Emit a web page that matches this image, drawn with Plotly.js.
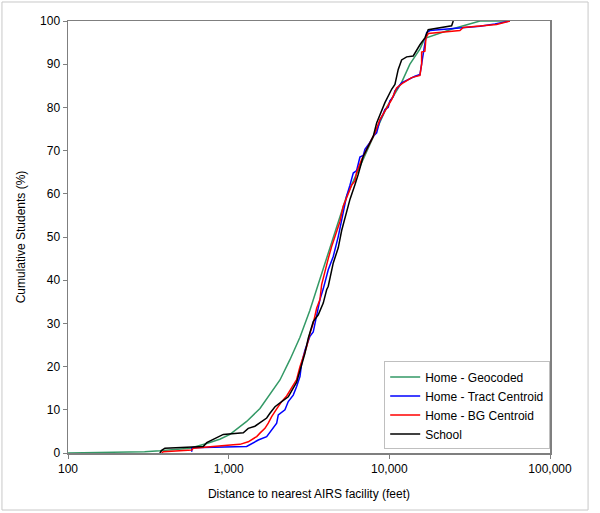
<!DOCTYPE html>
<html>
<head>
<meta charset="utf-8">
<script src="https://cdn.plot.ly/plotly-3.0.1.min.js"></script>
<style>
  body { margin: 0; background: #fff; }
  #chart { width: 600px; height: 513px; }
</style>
</head>
<body>
<div id="chart"></div>
<script>
// Distance (feet) vs cumulative share of students (%)
var geoX = [100, 150, 200, 300, 373, 470, 574, 730, 880, 1019, 1150, 1294, 1566, 1800, 2086, 2406, 2778, 3200, 3975, 4500, 5423, 6500, 7907, 9617, 11930, 13430, 15500, 16650, 24880, 36640, 56260];
var geoY = [0, 0.05, 0.1, 0.3, 0.5, 0.8, 1.1, 2.2, 3.2, 4.3, 5.8, 7.3, 10.3, 13.5, 16.9, 21.6, 26.8, 33.0, 44.0, 50.0, 59.5, 66.0, 72.8, 80.0, 85.8, 90.0, 93.5, 96.0, 98.2, 100, 100];

var tractX = [589, 589, 1294, 1528, 1724, 1852, 1990, 2036, 2240, 2349, 2523, 2649, 2778, 2847, 2984, 3205, 3360, 3699, 3879, 4167, 4477, 4808, 5050, 5424, 5687, 5964, 6259, 6561, 6880, 7050, 7573, 7940, 8337, 8740, 9163, 9389, 9843, 10086, 10576, 10835, 11925, 13113, 14431, 15503, 15885, 16253, 16652, 17064, 17889, 27498, 36640, 45410, 56300];
var tractY = [0.3, 1.2, 1.5, 3.0, 3.8, 5.3, 6.9, 8.8, 10.0, 11.9, 13.4, 15.4, 17.7, 20.8, 23.8, 27.0, 28.0, 35.5, 38.0, 42.4, 45.5, 50.1, 54.0, 59.5, 62.0, 64.8, 65.4, 68.5, 68.9, 70.3, 71.9, 73.3, 74.1, 77.0, 78.5, 79.5, 80.0, 81.5, 82.5, 83.8, 85.7, 86.5, 87.2, 87.6, 90.3, 92.7, 95.2, 97.3, 97.8, 98.3, 98.8, 99.3, 100];

var bgX = [383, 392, 589, 602, 1068, 1176, 1324, 1494, 1566, 1682, 1764, 1852, 1990, 2137, 2296, 2466, 2649, 2778, 2912, 3057, 3205, 3360, 3528, 3699, 3791, 3975, 4167, 4374, 4699, 4928, 5166, 5549, 5827, 6108, 6259, 6724, 7050, 7223, 7760, 8136, 8740, 9389, 10086, 10335, 11101, 12207, 13763, 15503, 15885, 15885, 16652, 16896, 17462, 27498, 28836, 46530, 56300];
var bgY = [0, 0.3, 0.7, 1.1, 1.9, 2.0, 2.6, 3.8, 4.6, 5.7, 6.9, 8.4, 10.2, 11.9, 13.2, 15.0, 17.0, 20.0, 22.3, 24.6, 27.7, 30.0, 33.5, 35.5, 39.0, 42.4, 45.0, 47.8, 51.3, 53.6, 57.1, 60.2, 62.0, 63.0, 65.0, 67.9, 69.5, 70.2, 72.5, 74.1, 77.2, 79.1, 81.1, 81.8, 84.5, 85.7, 86.9, 87.4, 90.0, 92.8, 93.0, 96.1, 97.1, 97.8, 98.5, 99.2, 100];

var schoolX = [373, 383, 401, 695, 730, 926, 1233, 1324, 1457, 1566, 1642, 1724, 1807, 1942, 2137, 2349, 2523, 2649, 2711, 2847, 2984, 3129, 3360, 3611, 3879, 4072, 4167, 4477, 4808, 5050, 5293, 5687, 6108, 6404, 6880, 7223, 7573, 7940, 8337, 8956, 9389, 10335, 10835, 11360, 11925, 12813, 14083, 15503, 16652, 17462, 24420, 24990];
var schoolY = [0, 0.6, 1.1, 1.5, 2.4, 4.3, 4.7, 5.7, 6.2, 7.0, 7.6, 8.1, 9.2, 10.7, 11.9, 13.0, 15.0, 16.4, 17.7, 20.4, 23.1, 26.6, 30.4, 32.0, 34.7, 37.8, 38.6, 44.0, 47.5, 51.5, 54.5, 58.7, 62.1, 64.5, 68.7, 70.3, 72.0, 73.3, 76.4, 79.5, 81.1, 84.2, 85.3, 88.8, 91.0, 91.7, 91.9, 94.5, 96.1, 98.0, 98.9, 100];

var seriesNames = ["Home - Geocoded", "Home - Tract Centroid", "Home - BG Centroid", "School"];
var seriesColors = ["#339966", "#0000ff", "#ff0000", "#000000"];

var xTickVals = [100, 1000, 10000, 100000];
var xTickText = ["100", "1,000", "10,000", "100,000"];

var font = "Liberation Sans, Arial, sans-serif";

var xs = [geoX, tractX, bgX, schoolX];
var ys = [geoY, tractY, bgY, schoolY];
var data = [];
for (var i = 0; i < xs.length; i++) {
  data.push({
    x: xs[i],
    y: ys[i],
    name: seriesNames[i],
    mode: "lines",
    type: "scatter",
    line: {color: seriesColors[i], width: 1.5}
  });
}

var layout = {
  width: 600,
  height: 513,
  margin: {l: 68, r: 50, t: 21, b: 60},
  paper_bgcolor: "#ffffff",
  plot_bgcolor: "#ffffff",
  font: {family: font, size: 12, color: "#000"},
  showlegend: true,
  legend: {
    x: 0.656, y: 0.212, xanchor: "left", yanchor: "top",
    bgcolor: "#ffffff", bordercolor: "#bfbfbf", borderwidth: 1,
    font: {family: font, size: 12, color: "#000"},
    itemwidth: 30,
    tracegroupgap: 0
  },
  xaxis: {
    type: "log",
    range: [2, 5],
    tickvals: xTickVals,
    ticktext: xTickText,
    showgrid: false, zeroline: false,
    showline: true, mirror: true, linecolor: "#7f7f7f", linewidth: 1.5,
    ticks: "outside", ticklen: 4, tickcolor: "#7f7f7f",
    tickfont: {family: font, size: 12, color: "#000"},
    title: {text: "Distance to nearest AIRS facility (feet)", font: {family: font, size: 12, color: "#000"}, standoff: 14}
  },
  yaxis: {
    range: [0, 100],
    dtick: 10,
    showgrid: false, zeroline: false,
    showline: true, mirror: true, linecolor: "#7f7f7f", linewidth: 1.5,
    ticks: "outside", ticklen: 4, tickcolor: "#7f7f7f",
    tickfont: {family: font, size: 12, color: "#000"},
    title: {text: "Cumulative Students (%)", font: {family: font, size: 12, color: "#000"}, standoff: 12}
  },
  shapes: [{
    type: "rect", xref: "paper", yref: "paper",
    x0: -0.137, x1: 1.079, y0: -0.132, y1: 1.044,
    line: {color: "#c8c8c8", width: 1}
  }]
};

Plotly.newPlot("chart", data, layout, {staticPlot: true});
</script>
</body>
</html>
